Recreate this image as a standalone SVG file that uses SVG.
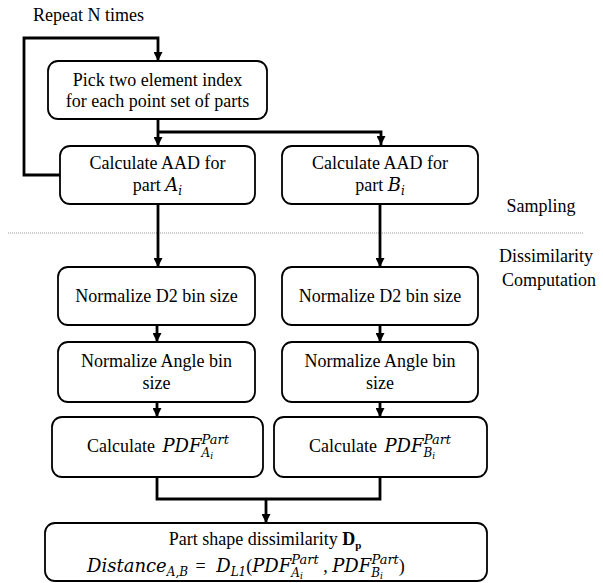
<svg xmlns="http://www.w3.org/2000/svg" width="603" height="583" viewBox="0 0 603 583">
<defs>
<marker id="arr" viewBox="0 0 10 10" refX="10" refY="5" markerWidth="9" markerHeight="9" markerUnits="userSpaceOnUse" orient="auto">
<path d="M0,0 L10,5 L0,10 z" fill="#000"/>
</marker>
<style>
.box{fill:#fff;stroke:#000;stroke-width:1.8}
.ln{fill:none;stroke:#000;stroke-width:2.8}
.la{fill:none;stroke:#000;stroke-width:2.8;marker-end:url(#arr)}
.m{font-family:'DejaVu Serif','Liberation Serif',serif;font-style:italic}
</style>
</defs>
<rect width="603" height="583" fill="#fff"/>
<g font-family="'Liberation Serif', 'Times New Roman', serif" font-size="18" fill="#000">
<text x="33" y="21">Repeat N times</text>
<line x1="8" y1="233" x2="583" y2="233" stroke="#999" stroke-width="1" stroke-dasharray="1,1"/>
<text text-anchor="middle" x="541" y="212">Sampling</text>
<text text-anchor="middle" x="546" y="262">Dissimilarity</text>
<text text-anchor="middle" x="549" y="286">Computation</text>
<g id="connectors">
<path class="la" d="M60,175 H24 V38 H158 V61"/>
<path class="la" d="M158,119 V146"/>
<path class="la" d="M158,132 H381 V145"/>
<path class="la" d="M158,204 V267"/>
<path class="la" d="M380,204 V267"/>
<path class="la" d="M157,325 V342"/>
<path class="la" d="M380,325 V342"/>
<path class="la" d="M157,402 V417"/>
<path class="la" d="M380,402 V417"/>
<path class="ln" d="M157,477 V499 H380 V477"/>
<path class="la" d="M266,499 V523"/>
</g>
<g id="pick">
<rect class="box" x="48" y="61" width="219" height="58" rx="10"/>
<text text-anchor="middle" x="157.5" y="86">Pick two element index</text>
<text text-anchor="middle" x="157.5" y="107">for each point set of parts</text>
</g>
<g id="aadA">
<rect class="box" x="60" y="146" width="195" height="58" rx="10"/>
<text text-anchor="middle" x="157.5" y="169">Calculate AAD for</text>
<text text-anchor="middle" x="157.5" y="191">part <tspan class="m">A</tspan><tspan class="m" font-size="12" dy="4">i</tspan></text>
</g>
<g id="aadB">
<rect class="box" x="282" y="146" width="196" height="58" rx="10"/>
<text text-anchor="middle" x="380" y="169">Calculate AAD for</text>
<text text-anchor="middle" x="380" y="191">part <tspan class="m">B</tspan><tspan class="m" font-size="12" dy="4">i</tspan></text>
</g>
<g id="d2A">
<rect class="box" x="58" y="267" width="197" height="58" rx="10"/>
<text text-anchor="middle" x="156.5" y="302">Normalize D2 bin size</text>
</g>
<g id="d2B">
<rect class="box" x="282" y="267" width="196" height="58" rx="10"/>
<text text-anchor="middle" x="380" y="302">Normalize D2 bin size</text>
</g>
<g id="angA">
<rect class="box" x="58" y="342" width="197" height="60" rx="10"/>
<text text-anchor="middle" x="156.5" y="367">Normalize Angle bin</text>
<text text-anchor="middle" x="156.5" y="389">size</text>
</g>
<g id="angB">
<rect class="box" x="282" y="342" width="196" height="60" rx="10"/>
<text text-anchor="middle" x="380" y="367">Normalize Angle bin</text>
<text text-anchor="middle" x="380" y="389">size</text>
</g>
<g id="pdfA">
<rect class="box" x="52" y="417" width="211" height="60" rx="10"/>
<text x="87" y="452">Calculate <tspan class="m" dx="3">PDF</tspan><tspan class="m" font-size="12" dy="5">A</tspan><tspan class="m" font-size="9" dy="2">i</tspan><tspan class="m" font-size="13" dx="-11.5" dy="-15">Part</tspan></text>
</g>
<g id="pdfB">
<rect class="box" x="274" y="417" width="213" height="60" rx="10"/>
<text x="309" y="452">Calculate <tspan class="m" dx="3">PDF</tspan><tspan class="m" font-size="12" dy="5">B</tspan><tspan class="m" font-size="9" dy="2">i</tspan><tspan class="m" font-size="13" dx="-11.5" dy="-15">Part</tspan></text>
</g>
<g id="dissim">
<rect class="box" x="45" y="523" width="442" height="58" rx="10"/>
<text text-anchor="middle" x="265" y="545">Part shape dissimilarity <tspan font-weight="bold">D</tspan><tspan font-weight="bold" font-size="11" dy="4">p</tspan></text>
<text x="87" y="572"><tspan class="m">Distance</tspan><tspan class="m" font-size="12" dy="4">A,B</tspan><tspan dy="-4" dx="3"> = </tspan><tspan class="m" dx="6">D</tspan><tspan class="m" font-size="12" dy="4">L1</tspan><tspan dy="-4">(</tspan><tspan class="m">PDF</tspan><tspan class="m" font-size="12" dy="5">A</tspan><tspan class="m" font-size="9" dy="2">i</tspan><tspan class="m" font-size="13" dx="-11.5" dy="-15">Part</tspan><tspan dy="8"> , </tspan><tspan class="m">PDF</tspan><tspan class="m" font-size="12" dy="5">B</tspan><tspan class="m" font-size="9" dy="2">i</tspan><tspan class="m" font-size="13" dx="-11.5" dy="-15">Part</tspan><tspan dy="8">)</tspan></text>
</g>
</g>
</svg>
